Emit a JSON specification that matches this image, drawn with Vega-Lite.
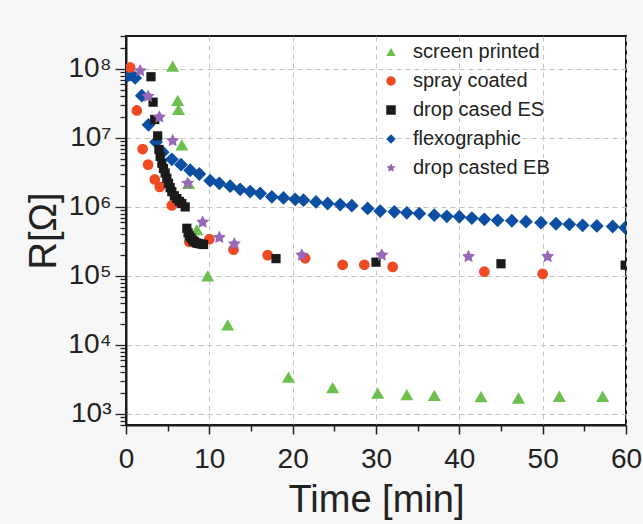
{
  "$schema": "https://vega.github.io/schema/vega-lite/v6.json",
  "width": 500,
  "height": 389,
  "autosize": {"type": "none"},
  "padding": {"left": 126, "top": 36, "right": 17, "bottom": 99},
  "background": "#f7f7f7",
  "config": {
    "view": {"stroke": "#1a1a1a", "strokeWidth": 2, "fill": "#ffffff"},
    "font": "Liberation Sans"
  },
  "data": {
    "values": [
      {"series": "screen printed", "t": 5.6, "R": 110000000},
      {"series": "screen printed", "t": 6.2, "R": 35000000},
      {"series": "screen printed", "t": 6.3, "R": 26000000},
      {"series": "screen printed", "t": 6.7, "R": 7900000},
      {"series": "screen printed", "t": 7.5, "R": 2200000},
      {"series": "screen printed", "t": 8.5, "R": 470000},
      {"series": "screen printed", "t": 9.8, "R": 100000},
      {"series": "screen printed", "t": 12.2, "R": 19500},
      {"series": "screen printed", "t": 19.5, "R": 3400},
      {"series": "screen printed", "t": 24.8, "R": 2400},
      {"series": "screen printed", "t": 30.2, "R": 2000},
      {"series": "screen printed", "t": 33.7, "R": 1900},
      {"series": "screen printed", "t": 37.0, "R": 1850},
      {"series": "screen printed", "t": 42.6, "R": 1780},
      {"series": "screen printed", "t": 47.1, "R": 1700},
      {"series": "screen printed", "t": 52.0, "R": 1800},
      {"series": "screen printed", "t": 57.2, "R": 1800},

      {"series": "spray coated", "t": 0.5, "R": 105000000},
      {"series": "spray coated", "t": 1.3, "R": 25000000},
      {"series": "spray coated", "t": 2.0, "R": 6900000},
      {"series": "spray coated", "t": 2.65, "R": 4100000},
      {"series": "spray coated", "t": 3.45, "R": 2500000},
      {"series": "spray coated", "t": 4.05, "R": 1950000},
      {"series": "spray coated", "t": 5.5, "R": 1050000},
      {"series": "spray coated", "t": 7.6, "R": 310000},
      {"series": "spray coated", "t": 10.0, "R": 340000},
      {"series": "spray coated", "t": 12.9, "R": 240000},
      {"series": "spray coated", "t": 17.0, "R": 200000},
      {"series": "spray coated", "t": 21.5, "R": 180000},
      {"series": "spray coated", "t": 26.0, "R": 145000},
      {"series": "spray coated", "t": 28.6, "R": 145000},
      {"series": "spray coated", "t": 32.0, "R": 135000},
      {"series": "spray coated", "t": 43.0, "R": 115000},
      {"series": "spray coated", "t": 50.0, "R": 107000},

      {"series": "drop cased ES", "t": 3.0, "R": 77000000},
      {"series": "drop cased ES", "t": 3.25, "R": 33000000},
      {"series": "drop cased ES", "t": 3.45, "R": 18500000},
      {"series": "drop cased ES", "t": 3.8, "R": 10700000},
      {"series": "drop cased ES", "t": 3.95, "R": 6800000},
      {"series": "drop cased ES", "t": 4.1, "R": 5400000},
      {"series": "drop cased ES", "t": 4.3, "R": 4300000},
      {"series": "drop cased ES", "t": 4.5, "R": 3600000},
      {"series": "drop cased ES", "t": 4.7, "R": 3100000},
      {"series": "drop cased ES", "t": 4.9, "R": 2600000},
      {"series": "drop cased ES", "t": 5.1, "R": 2200000},
      {"series": "drop cased ES", "t": 5.3, "R": 1900000},
      {"series": "drop cased ES", "t": 5.5, "R": 1660000},
      {"series": "drop cased ES", "t": 5.8, "R": 1450000},
      {"series": "drop cased ES", "t": 6.1, "R": 1320000},
      {"series": "drop cased ES", "t": 6.4, "R": 1200000},
      {"series": "drop cased ES", "t": 6.7, "R": 1120000},
      {"series": "drop cased ES", "t": 7.1, "R": 1000000},
      {"series": "drop cased ES", "t": 7.3, "R": 490000},
      {"series": "drop cased ES", "t": 7.45, "R": 420000},
      {"series": "drop cased ES", "t": 7.6, "R": 380000},
      {"series": "drop cased ES", "t": 7.8, "R": 355000},
      {"series": "drop cased ES", "t": 8.0, "R": 330000},
      {"series": "drop cased ES", "t": 8.2, "R": 315000},
      {"series": "drop cased ES", "t": 8.45, "R": 300000},
      {"series": "drop cased ES", "t": 8.7, "R": 295000},
      {"series": "drop cased ES", "t": 9.0, "R": 290000},
      {"series": "drop cased ES", "t": 9.3, "R": 285000},
      {"series": "drop cased ES", "t": 18.0, "R": 178000},
      {"series": "drop cased ES", "t": 30.0, "R": 158000},
      {"series": "drop cased ES", "t": 45.0, "R": 150000},
      {"series": "drop cased ES", "t": 59.9, "R": 143000},

      {"series": "flexographic", "t": 0.2, "R": 80000000},
      {"series": "flexographic", "t": 0.5, "R": 83000000},
      {"series": "flexographic", "t": 1.1, "R": 74000000},
      {"series": "flexographic", "t": 1.9, "R": 41000000},
      {"series": "flexographic", "t": 2.7, "R": 15500000},
      {"series": "flexographic", "t": 3.6, "R": 8700000},
      {"series": "flexographic", "t": 4.4, "R": 6200000},
      {"series": "flexographic", "t": 5.5, "R": 4900000},
      {"series": "flexographic", "t": 6.6, "R": 4100000},
      {"series": "flexographic", "t": 7.7, "R": 3400000},
      {"series": "flexographic", "t": 8.8, "R": 3000000},
      {"series": "flexographic", "t": 10.1, "R": 2400000},
      {"series": "flexographic", "t": 11.2, "R": 2200000},
      {"series": "flexographic", "t": 12.5, "R": 2000000},
      {"series": "flexographic", "t": 13.7, "R": 1800000},
      {"series": "flexographic", "t": 14.9, "R": 1670000},
      {"series": "flexographic", "t": 16.1, "R": 1570000},
      {"series": "flexographic", "t": 17.5, "R": 1400000},
      {"series": "flexographic", "t": 18.9, "R": 1350000},
      {"series": "flexographic", "t": 20.3, "R": 1290000},
      {"series": "flexographic", "t": 21.3, "R": 1250000},
      {"series": "flexographic", "t": 22.8, "R": 1180000},
      {"series": "flexographic", "t": 24.2, "R": 1120000},
      {"series": "flexographic", "t": 25.7, "R": 1080000},
      {"series": "flexographic", "t": 27.1, "R": 1040000},
      {"series": "flexographic", "t": 29.0, "R": 950000},
      {"series": "flexographic", "t": 30.5, "R": 870000},
      {"series": "flexographic", "t": 32.2, "R": 850000},
      {"series": "flexographic", "t": 33.7, "R": 820000},
      {"series": "flexographic", "t": 35.2, "R": 800000},
      {"series": "flexographic", "t": 37.0, "R": 760000},
      {"series": "flexographic", "t": 38.5, "R": 730000},
      {"series": "flexographic", "t": 40.0, "R": 720000},
      {"series": "flexographic", "t": 41.5, "R": 690000},
      {"series": "flexographic", "t": 43.0, "R": 660000},
      {"series": "flexographic", "t": 44.6, "R": 640000},
      {"series": "flexographic", "t": 46.3, "R": 630000},
      {"series": "flexographic", "t": 48.0, "R": 610000},
      {"series": "flexographic", "t": 49.8, "R": 590000},
      {"series": "flexographic", "t": 51.6, "R": 570000},
      {"series": "flexographic", "t": 53.2, "R": 560000},
      {"series": "flexographic", "t": 54.8, "R": 540000},
      {"series": "flexographic", "t": 56.5, "R": 530000},
      {"series": "flexographic", "t": 58.4, "R": 520000},
      {"series": "flexographic", "t": 59.9, "R": 500000},

      {"series": "drop casted EB", "t": 1.7, "R": 94000000},
      {"series": "drop casted EB", "t": 2.65, "R": 40000000},
      {"series": "drop casted EB", "t": 4.0, "R": 20000000},
      {"series": "drop casted EB", "t": 5.6, "R": 9100000},
      {"series": "drop casted EB", "t": 7.4, "R": 2200000},
      {"series": "drop casted EB", "t": 9.2, "R": 600000},
      {"series": "drop casted EB", "t": 11.2, "R": 360000},
      {"series": "drop casted EB", "t": 13.0, "R": 290000},
      {"series": "drop casted EB", "t": 21.1, "R": 200000},
      {"series": "drop casted EB", "t": 30.7, "R": 200000},
      {"series": "drop casted EB", "t": 41.1, "R": 190000},
      {"series": "drop casted EB", "t": 50.6, "R": 190000}
    ]
  },
  "encoding": {
    "x": {
      "field": "t", "type": "quantitative",
      "scale": {"domain": [0, 60], "nice": false, "zero": false},
      "axis": {
        "orient": "bottom",
        "values": [0, 5, 10, 15, 20, 25, 30, 35, 40, 45, 50, 55, 60],
        "labelExpr": "datum.value % 10 == 0 ? datum.label : ''",
        "grid": true, "gridDash": [5, 4], "gridColor": "#c4c4c4", "gridWidth": 1,
        "gridOpacity": {"condition": {"test": "datum.value % 10 == 0", "value": 1}, "value": 0},
        "tickSize": {"condition": {"test": "datum.value % 10 == 0", "value": 9}, "value": 6},
        "domainColor": "#1a1a1a", "domainWidth": 2, "tickWidth": 1.5,
        "tickColor": "#222", "labelFontSize": 28, "labelColor": "#222", "labelPadding": 11,
        "labelFlush": false, "labelOverlap": false,
        "title": "Time [min]", "titleFontSize": 38, "titleFontWeight": "normal",
        "titleColor": "#222", "titlePadding": 8
      }
    },
    "y": {
      "field": "R", "type": "quantitative",
      "scale": {"type": "log", "domain": [690, 300000000], "nice": false},
      "axis": {
        "orient": "left",
        "values": [700, 800, 900, 1000, 2000, 3000, 4000, 5000, 6000, 7000, 8000, 9000,
                   10000, 20000, 30000, 40000, 50000, 60000, 70000, 80000, 90000,
                   100000, 200000, 300000, 400000, 500000, 600000, 700000, 800000, 900000,
                   1000000, 2000000, 3000000, 4000000, 5000000, 6000000, 7000000, 8000000, 9000000,
                   10000000, 20000000, 30000000, 40000000, 50000000, 60000000, 70000000, 80000000, 90000000,
                   100000000, 200000000, 300000000],
        "labelExpr": "datum.value == 1000 ? '10³' : datum.value == 10000 ? '10⁴' : datum.value == 100000 ? '10⁵' : datum.value == 1000000 ? '10⁶' : datum.value == 10000000 ? '10⁷' : datum.value == 100000000 ? '10⁸' : ''",
        "grid": true, "gridDash": [5, 4], "gridColor": "#c4c4c4", "gridWidth": 1,
        "gridOpacity": {"condition": {"test": "indexof([1000,10000,100000,1000000,10000000,100000000], datum.value) >= 0", "value": 1}, "value": 0},
        "tickSize": {"condition": {"test": "indexof([1000,10000,100000,1000000,10000000,100000000], datum.value) >= 0", "value": 11}, "value": 6},
        "domainColor": "#1a1a1a", "domainWidth": 2, "tickWidth": 1.3,
        "tickColor": "#222", "labelFontSize": 28, "labelColor": "#222", "labelPadding": 4,
        "labelFlush": false, "labelOverlap": false,
        "title": "R[Ω]", "titleFontSize": 38, "titleFontWeight": "normal",
        "titleColor": "#222", "titlePadding": 4
      }
    },
    "color": {
      "field": "series", "type": "nominal",
      "scale": {
        "domain": ["screen printed", "spray coated", "drop cased ES", "flexographic", "drop casted EB"],
        "range": ["#6dbf4e", "#f04a23", "#1a1a1a", "#0b4ea2", "#9a68b8"]
      },
      "legend": {
        "title": null, "orient": "none", "legendX": 255, "legendY": 6,
        "labelFontSize": 20, "labelColor": "#222", "symbolSize": 90, "rowPadding": 9,
        "labelOffset": 12, "symbolStrokeWidth": 0
      }
    },
    "shape": {
      "field": "series", "type": "nominal",
      "scale": {
        "domain": ["screen printed", "spray coated", "drop cased ES", "flexographic", "drop casted EB"],
        "range": ["triangle-up", "circle", "square", "diamond", "M0,-1L0.294,-0.405L0.951,-0.309L0.476,0.155L0.588,0.809L0,0.5L-0.588,0.809L-0.476,0.155L-0.951,-0.309L-0.294,-0.405Z"]
      },
      "legend": {
        "title": null, "orient": "none", "legendX": 255, "legendY": 6,
        "labelFontSize": 20, "labelColor": "#222", "symbolSize": 90, "rowPadding": 9,
        "labelOffset": 12, "symbolStrokeWidth": 0
      }
    }
  },
  "layer": [
    {
      "transform": [{"filter": "datum.series == 'flexographic'"}],
      "mark": {"type": "point", "filled": true, "opacity": 1, "clip": true, "size": 190}
    },
    {
      "transform": [{"filter": "datum.series == 'screen printed'"}],
      "mark": {"type": "point", "filled": true, "opacity": 1, "clip": true, "size": 170}
    },
    {
      "transform": [{"filter": "datum.series == 'spray coated'"}],
      "mark": {"type": "point", "filled": true, "opacity": 1, "clip": true, "size": 115}
    },
    {
      "transform": [{"filter": "datum.series == 'drop cased ES'"}],
      "mark": {"type": "point", "filled": true, "opacity": 1, "clip": true, "size": 85}
    },
    {
      "transform": [{"filter": "datum.series == 'drop casted EB'"}],
      "mark": {"type": "point", "filled": true, "opacity": 1, "clip": true, "size": 190}
    }
  ]
}
